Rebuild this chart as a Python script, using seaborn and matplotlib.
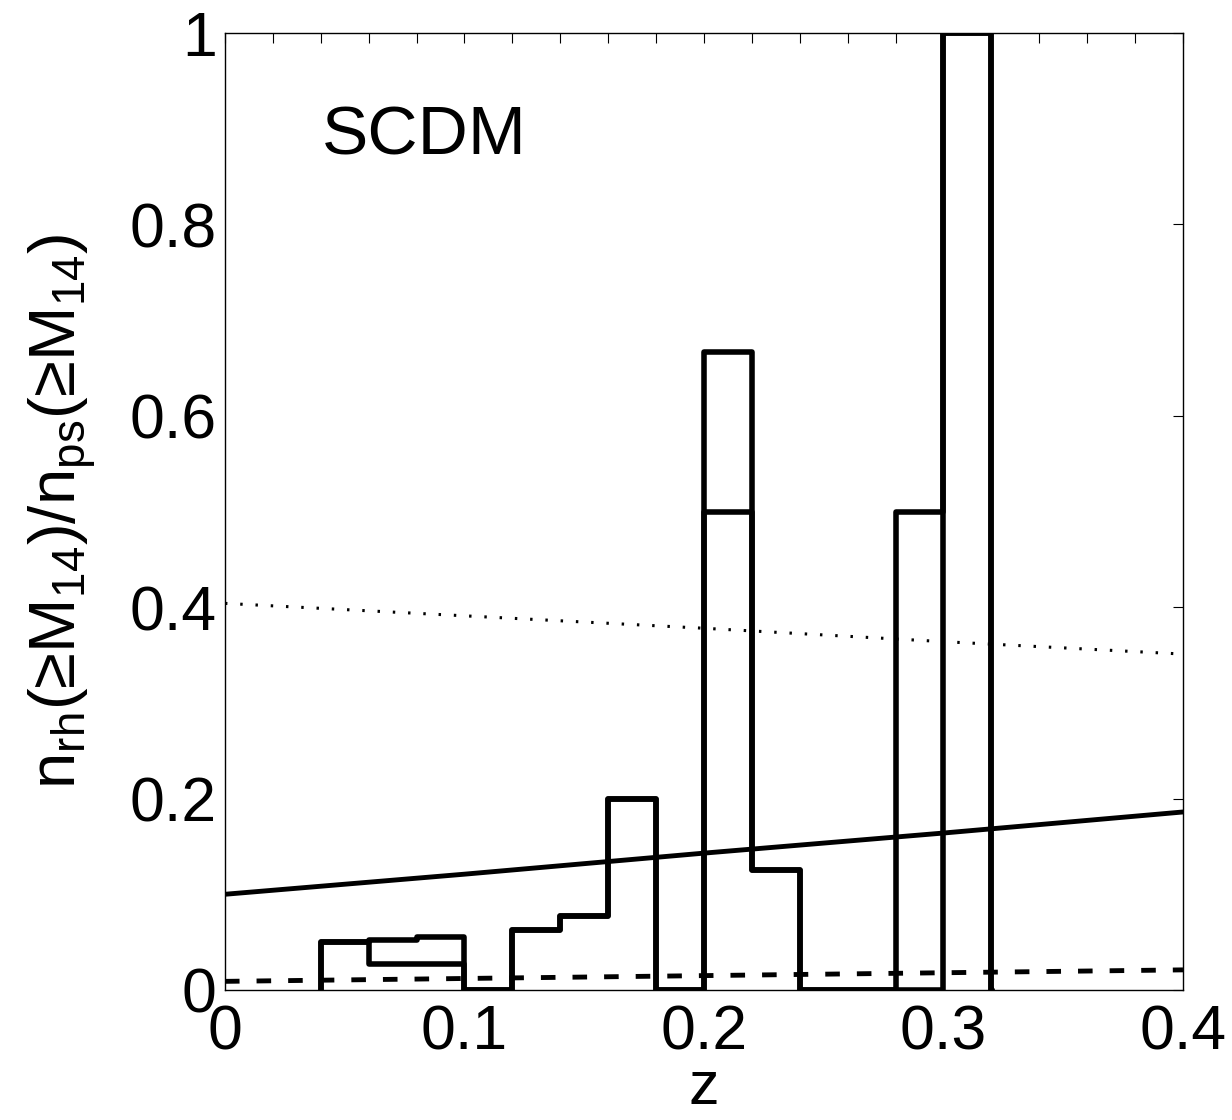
import numpy as np
import pandas as pd
import matplotlib
matplotlib.use("Agg")
import matplotlib.pyplot as plt
import seaborn as sns

# ------------------------------------------
# Data
# ------------------------------------------
# histogram bins, width 0.02, from z=0.04 to z=0.32
bin_left = [0.04, 0.06, 0.08, 0.10, 0.12, 0.14, 0.16,
            0.18, 0.20, 0.22, 0.24, 0.26, 0.28, 0.30]
bin_width = 0.02
ratio_a = [0.05, 0.0526, 0.0556, 0.0, 0.0625, 0.0769, 0.2,
           0.0, 0.667, 0.125, 0.0, 0.0, 0.5, 1.0]
ratio_b = [0.05, 0.027, 0.027, 0.0, 0.0625, 0.0769, 0.2,
           0.0, 0.5, 0.125, 0.0, 0.0, 0.0, 1.0]

# smooth model curves
z_model = [0.0, 0.1, 0.2, 0.3, 0.4]
model_solid = [0.100, 0.121, 0.143, 0.164, 0.186]
model_dotted = [0.404, 0.391, 0.378, 0.364, 0.351]
model_dashed = [0.009, 0.012, 0.015, 0.018, 0.021]

x_ticks = [0, 0.1, 0.2, 0.3, 0.4]
x_ticklabels = ["0", "0.1", "0.2", "0.3", "0.4"]
y_ticks = [0, 0.2, 0.4, 0.6, 0.8, 1]
y_ticklabels = ["0", "0.2", "0.4", "0.6", "0.8", "1"]

# ------------------------------------------
# Style
# ------------------------------------------
sns.set_style("white")
plt.rcParams["font.family"] = ["Liberation Sans", "DejaVu Sans"]
plt.rcParams["mathtext.fontset"] = "custom"
plt.rcParams["mathtext.rm"] = "Liberation Sans"
plt.rcParams["mathtext.it"] = "Liberation Sans"
for key in ["text.color", "axes.labelcolor", "xtick.color", "ytick.color"]:
    plt.rcParams[key] = "black"

fig = plt.figure(figsize=(12.32, 11.2), dpi=100)
ax = fig.add_axes([0.1826, 0.1161, 0.7776, 0.8544])

# ------------------------------------------
# Histograms (step outlines)
# ------------------------------------------
edges = [bin_left[0] - 1e-4] + bin_left + [bin_left[-1] + bin_width, bin_left[-1] + bin_width + 1e-4]
centers = np.array(bin_left) + bin_width / 2
for vals in [ratio_a, ratio_b]:
    df = pd.DataFrame({"z": centers, "w": vals})
    sns.histplot(data=df, x="z", weights="w", bins=edges, element="step",
                 fill=False, color="black", linewidth=4, ax=ax)

# ------------------------------------------
# Model curves
# ------------------------------------------
models = pd.DataFrame({"z": z_model, "solid": model_solid,
                       "dotted": model_dotted, "dashed": model_dashed})
sns.lineplot(data=models, x="z", y="solid", color="black", linewidth=3.5, ax=ax)
sns.lineplot(data=models, x="z", y="dotted", color="black", linewidth=2.2,
             ax=ax).lines[-1].set_dashes((0.8, 4.2))
sns.lineplot(data=models, x="z", y="dashed", color="black", linewidth=3.5,
             ax=ax).lines[-1].set_dashes((3, 3.5))

# ------------------------------------------
# Axes formatting
# ------------------------------------------
ax.set_xlim(0, 0.4)
ax.set_ylim(0, 1)
ax.set_xticks(x_ticks)
ax.set_xticklabels(x_ticklabels)
ax.set_xticks(np.arange(0, 0.401, 0.02), minor=True)
ax.set_yticks(y_ticks)
ax.set_yticklabels(y_ticklabels)
ax.tick_params(which="both", direction="in", top=True, right=True,
               length=7, width=0.8, color="black")
ax.tick_params(axis="x", labelsize=45, pad=10)
ax.tick_params(axis="y", labelsize=45, pad=6)
for s in ax.spines.values():
    s.set_color("black")
    s.set_linewidth(1.0)

ax.set_xlabel("z", fontsize=44, labelpad=-2)
ax.set_ylabel(r"n$_{\mathregular{rh}}$(≥M$_{\mathregular{14}}$)/n$_{\mathregular{ps}}$(≥M$_{\mathregular{14}}$)",
              fontsize=47, labelpad=22)

ax.text(0.0405, 0.873, "SCDM", fontsize=50, va="baseline", ha="left")

fig.savefig("out.png", dpi=100)
